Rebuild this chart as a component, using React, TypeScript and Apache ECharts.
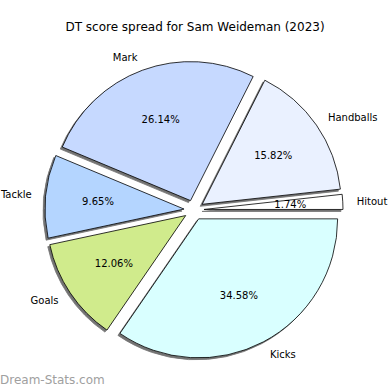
import React, { useEffect, useRef } from "react";
import * as echarts from "echarts";

const categories = ["Hitout", "Handballs", "Mark", "Tackle", "Goals", "Kicks"];
const shares = [1.74, 15.82, 26.14, 9.65, 12.06, 34.58];
const colors = ["#ffffff", "#eaf1ff", "#c6d9ff", "#b4d5ff", "#d0eb8c", "#d9ffff"];
const titleText = "DT score spread for Sam Weideman (2023)";
const watermark = "Dream-Stats.com";

const FONT = "DejaVu Sans";

export default function App() {
  const ref = useRef<HTMLDivElement>(null);
  useEffect(() => {
    if (!ref.current) return;
    const chart = echarts.init(ref.current, undefined, { renderer: "svg" });
    const center = [194, 210];
    const r = 139;
    const offset = 10;
    const mainData = categories.map((c, i) => ({
      name: c,
      value: shares[i],
      selected: true,
      itemStyle: { color: colors[i] },
    }));
    const pctData = categories.map((c, i) => ({
      name: c,
      value: shares[i],
      selected: true,
    }));
    chart.setOption({
      animation: false,
      backgroundColor: "#ffffff",
      title: {
        text: titleText,
        left: "center",
        top: 16,
        textStyle: { fontFamily: FONT, fontSize: 12, fontWeight: "normal", color: "#000" },
      },
      graphic: [
        {
          type: "text",
          left: 0,
          top: 374,
          style: { text: watermark, fontFamily: FONT, fontSize: 12, fill: "#a0a0a0", fontWeight: "normal" },
        },
      ],
      series: [
        {
          type: "pie",
          center,
          radius: [0, r],
          startAngle: 0,
          clockwise: false,
          selectedMode: "multiple",
          selectedOffset: offset,
          avoidLabelOverlap: false,
          minShowLabelAngle: 0,
          itemStyle: {
            borderColor: "#000",
            borderWidth: 0.8,
            shadowColor: "rgba(0,0,0,0.55)",
            shadowBlur: 1,
            shadowOffsetX: -2,
            shadowOffsetY: 2,
          },
          label: {
            show: true,
            position: "outside",
            formatter: "{b}",
            fontFamily: FONT,
            fontSize: 10,
            color: "#000",
            distanceToLabelLine: 0,
          },
          labelLine: { show: false, length: 14, length2: 0 },
          emphasis: { disabled: true },
          data: mainData,
        },
        {
          type: "pie",
          center,
          radius: [0, r * 1.2],
          startAngle: 0,
          clockwise: false,
          selectedMode: "multiple",
          selectedOffset: offset,
          avoidLabelOverlap: false,
          silent: true,
          itemStyle: { color: "rgba(0,0,0,0)", borderWidth: 0 },
          label: {
            show: true,
            position: "inside",
            formatter: (p: any) => p.value.toFixed(2) + "%",
            fontFamily: FONT,
            fontSize: 10,
            color: "#000",
          },
          labelLine: { show: false },
          emphasis: { disabled: true },
          data: pctData,
        },
      ],
    });
    return () => chart.dispose();
  }, []);
  return (
    <div
      ref={ref}
      style={{ position: "fixed", left: 0, top: 0, width: 390, height: 390 }}
    />
  );
}
